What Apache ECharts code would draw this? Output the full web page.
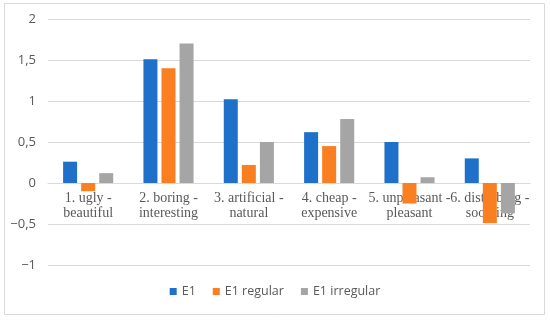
<!DOCTYPE html>
<html><head><meta charset="utf-8">
<script src="https://cdn.jsdelivr.net/npm/echarts@6/dist/echarts.min.js"></script>
<style>html,body{margin:0;padding:0;background:#fff}#c{width:550px;height:320px}</style>
</head><body><div id="c"></div>
<script>
const categories = ['1. ugly -\nbeautiful', '2. boring -\ninteresting', '3. artificial -\nnatural', '4. cheap -\nexpensive', '5. unpleasant -\npleasant', '6. disturbing -\nsoothing'];
const e1 = [0.26, 1.51, 1.02, 0.62, 0.50, 0.30];
const e1Regular = [-0.10, 1.40, 0.22, 0.45, -0.25, -0.49];
const e1Irregular = [0.12, 1.70, 0.50, 0.78, 0.07, -0.37];
const seriesNames = ['E1', 'E1 regular', 'E1 irregular'];
const colors = ['#1f70c8', '#f97f20', '#a5a5a5'];

const chart = echarts.init(document.getElementById('c'), null, {renderer: 'canvas'});
const mk = (name, data, color) => ({
  name, type: 'bar', data, barWidth: 14, barGap: '29%', z: 10,
  itemStyle: {color}
});
chart.setOption({
  animation: false,
  graphic: [{type: 'rect', shape: {x: 4.5, y: 3.5, width: 540, height: 311}, style: {fill: 'none', stroke: '#d9d9d9', lineWidth: 1}}],
  grid: {left: 48, right: 20, top: 19, bottom: 55},
  legend: {
    data: seriesNames, bottom: 17, left: 'center', itemWidth: 7, itemHeight: 7, itemGap: 17,
    icon: 'rect',
    textStyle: {fontFamily: 'Open Sans, Noto Sans, sans-serif', fontSize: 12.5, color: '#595959'}
  },
  xAxis: {
    type: 'category', data: categories, z: 0,
    offset: -82,
    axisLine: {show: true, onZero: false, lineStyle: {color: '#d9d9d9'}},
    axisTick: {show: false},
    axisLabel: {interval: 0, fontFamily: 'Liberation Serif, Times New Roman, serif', fontSize: 14, color: '#595959', lineHeight: 15, margin: 8}
  },
  yAxis: {
    type: 'value', min: -1, max: 2, interval: 0.5,
    splitLine: {lineStyle: {color: '#d9d9d9'}},
    axisLine: {show: false}, axisTick: {show: false},
    axisLabel: {
      fontFamily: 'Open Sans, Noto Sans, sans-serif', fontSize: 13, color: '#595959', margin: 12,
      formatter: v => String(v).replace('.', ',').replace('-', '\u2212')
    }
  },
  series: [mk(seriesNames[0], e1, colors[0]), mk(seriesNames[1], e1Regular, colors[1]), mk(seriesNames[2], e1Irregular, colors[2])]
});
</script></body></html>
